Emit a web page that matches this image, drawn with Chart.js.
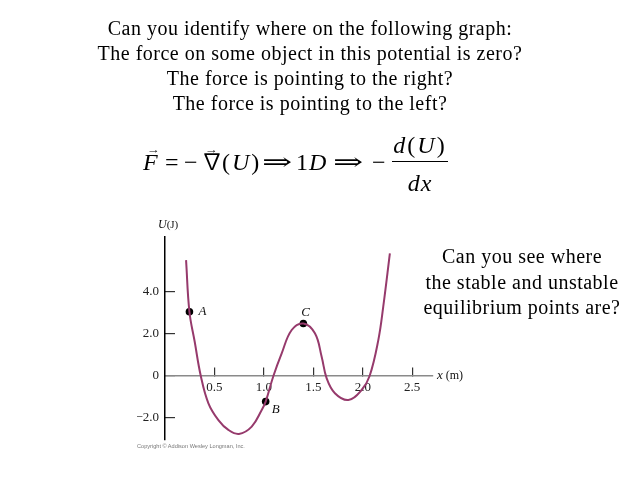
<!DOCTYPE html>
<html>
<head>
<meta charset="utf-8">
<script src="https://cdn.jsdelivr.net/npm/chart.js@4.4.0/dist/chart.umd.min.js"></script>
<style>
  html, body { margin: 0; padding: 0; background: #fff; }
  body { width: 640px; height: 480px; position: relative; overflow: hidden; font-family: 'Liberation Serif', 'DejaVu Serif', serif; color: #000; }
  #chartBox { position: absolute; left: 0; top: 0; width: 640px; height: 480px; }
  .txt { position: absolute; text-align: center; font-size: 20px; line-height: 25px; white-space: nowrap; letter-spacing: 0.5px; }
  #question { left: 60px; width: 500px; top: 16px; }
  #equil { left: 402px; width: 240px; top: 244px; line-height: 25.5px; }
  #eq span, #eq div { position: absolute; font-size: 24px; line-height: 24px; white-space: nowrap; }
  #eq span { top: 149.6px; }
  #eq .nabla { font-family: 'Noto Sans CJK JP', 'DejaVu Serif', serif; font-size: 22px; top: 147px; }
  #eq .arr { font-size: 11px; line-height: 11px; top: 144px; transform: scaleX(1.2); transform-origin: left; }
  #eq .dbl { display: inline-block; transform: scaleX(1.5); transform-origin: left; }
  #eq .num { left: 392px; width: 56px; top: 133px; text-align: center; letter-spacing: 2px; }
  #eq .den { left: 392px; width: 56px; top: 171px; text-align: center; letter-spacing: 1px; }
  #eq .bar { left: 392px; width: 56px; top: 160.5px; height: 1.5px; background: #000; }
  #copy { position: absolute; left: 137px; top: 443px; font: 5.6px 'Liberation Sans', Arial, sans-serif; color: #777; white-space: nowrap; }
</style>
</head>
<body>
<div id="chartBox"><canvas id="potentialChart" width="640" height="480"></canvas></div>

<div id="question" class="txt">
  Can you identify where on the following graph:<br>
  The force on some object in this potential is zero?<br>
  The force is pointing to the right?<br>
  The force is pointing to the left?
</div>

<div id="eq">
  <span style="left:143px"><i>F</i></span>
  <span class="arr" style="left:147px">&rarr;</span>
  <span style="left:165px">=</span>
  <span style="left:184px">&minus;</span>
  <span class="nabla" style="left:201px">&nabla;</span>
  <span class="arr" style="left:205px">&rarr;</span>
  <span style="left:222px; letter-spacing:2px">(<i>U</i>)</span>
  <span class="dbl" style="left:262px">&rArr;</span>
  <span style="left:296px">1</span>
  <span style="left:309px"><i>D</i></span>
  <span class="dbl" style="left:333px">&rArr;</span>
  <span style="left:372px">&minus;</span>
  <div class="num"><i>d</i>(<i>U</i>)</div>
  <div class="bar"></div>
  <div class="den"><i>dx</i></div>
</div>

<div id="equil" class="txt">
  Can you see where<br>
  the stable and unstable<br>
  equilibrium points are?
</div>

<div id="copy">Copyright &copy; Addison Wesley Longman, Inc.</div>

<script>
// potential curve U(x)
const curveX = [0.213, 0.247, 0.300, 0.362, 0.439, 0.540, 0.641, 0.748, 0.877, 0.978, 1.018, 1.096, 1.180,
  1.281, 1.399, 1.516, 1.584, 1.634, 1.718, 1.854, 1.988, 2.069, 2.157, 2.207, 2.274];
const curveU = [5.52, 3.06, 1.64, 0, -1.30, -2.10, -2.57, -2.76, -2.41, -1.62, -1.22, 0, 1.08,
  2.19, 2.50, 2.03, 0.92, -0.10, -0.82, -1.14, -0.67, 0, 1.71, 3.30, 5.84];

const pointNames = ['A', 'B', 'C'];
const pointX = [0.247, 1.018, 1.399];
const pointU = [3.06, -1.22, 2.50];

const xTicks = [0.5, 1.0, 1.5, 2.0, 2.5];
const yTicks = [-2, 0, 2, 4];

const serif = '"Liberation Serif", "Times New Roman", serif';

const curveData = curveX.map((x, i) => ({ x: x, y: curveU[i] }));
const pointData = pointX.map((x, i) => ({ x: x, y: pointU[i] }));

const labelPlugin = {
  id: 'figureLabels',
  afterDatasetsDraw(chart) {
    const ctx = chart.ctx;
    const xs = chart.scales.x;
    const ys = chart.scales.y;
    const offsets = [[9, 0], [6, 8], [-2, -11]];
    ctx.save();
    ctx.fillStyle = '#111';
    ctx.textBaseline = 'middle';
    ctx.font = 'italic 13px ' + serif;
    chart.getDatasetMeta(1).data.forEach((pt, i) => {
      ctx.fillText(pointNames[i], pt.x + offsets[i][0], pt.y + offsets[i][1]);
    });

    // x (m) at the end of the axis
    const y0 = ys.getPixelForValue(0);
    let tx = xs.right + 4;
    ctx.font = 'italic 13px ' + serif;
    ctx.fillText('x', tx, y0);
    tx += ctx.measureText('x').width;
    ctx.font = '12px ' + serif;
    ctx.fillText(' (m)', tx, y0);

    // U(J) above the y axis
    let ux = ys.right - 7;
    const uy = ys.top - 12;
    ctx.font = 'italic 12px ' + serif;
    ctx.fillText('U', ux, uy);
    ux += ctx.measureText('U').width;
    ctx.font = '11px ' + serif;
    ctx.fillText('(J)', ux, uy);
    ctx.restore();
  }
};

new Chart(document.getElementById('potentialChart'), {
  type: 'line',
  data: {
    datasets: [{
      data: curveData,
      borderColor: '#963a6c',
      borderWidth: 2,
      pointRadius: 0,
      tension: 0.4,
      fill: false
    }, {
      type: 'scatter',
      data: pointData,
      showLine: false,
      pointRadius: 3.8,
      pointBackgroundColor: '#000',
      pointBorderColor: '#000',
      pointBorderWidth: 0
    }]
  },
  options: {
    responsive: false,
    animation: false,
    devicePixelRatio: 1,
    layout: { padding: { left: 137, right: 207, top: 237, bottom: 40 } },
    plugins: { legend: { display: false }, tooltip: { enabled: false } },
    scales: {
      x: {
        type: 'linear',
        position: { y: 0 },
        min: 0,
        max: 2.71,
        afterBuildTicks: axis => { axis.ticks = xTicks.map(v => ({ value: v })); },
        border: { display: true, color: '#8a8a8a', width: 1.6 },
        grid: { drawOnChartArea: false, drawTicks: true, tickLength: -9, color: '#333', lineWidth: 1.2 },
        ticks: {
          padding: 13,
          color: '#222',
          font: { family: serif, size: 13 },
          callback: v => v.toFixed(1)
        }
      },
      y: {
        type: 'linear',
        position: 'left',
        min: -3.05,
        max: 6.62,
        afterBuildTicks: axis => { axis.ticks = yTicks.map(v => ({ value: v })); },
        afterFit: axis => { axis.width = 28; },
        border: { display: true, color: '#000', width: 1.5 },
        grid: { drawOnChartArea: false, drawTicks: true, tickLength: -10, color: '#333', lineWidth: 1.2 },
        ticks: {
          padding: 16,
          color: '#222',
          font: { family: serif, size: 13 },
          callback: v => v === 0 ? '0' : v.toFixed(1).replace('-', '\u2212')
        }
      }
    }
  },
  plugins: [labelPlugin]
});
</script>
</body>
</html>
